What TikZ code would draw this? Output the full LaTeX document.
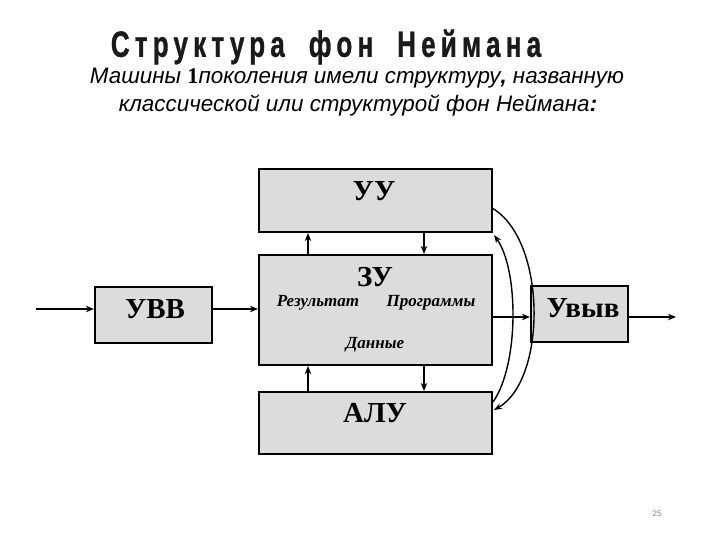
\documentclass[tikz,border=0pt]{standalone}
\usepackage{fontspec}
\setmainfont{Liberation Serif}
\newfontfamily\titlefont[LetterSpace=20,FakeBold=1.2]{Liberation Sans}
\newfontfamily\subfont{Liberation Sans}
\usetikzlibrary{arrows.meta}
\definecolor{boxgray}{HTML}{DCDCDC}
\definecolor{titlecol}{HTML}{1C1A18}
\tikzset{
  blk/.style={draw=black, line width=2.2pt, fill=boxgray, inner sep=0pt},
  blklabel/.style={font=\fontsize{29}{30}\selectfont\bfseries, inner sep=0pt},
  memlabel/.style={font=\fontsize{17}{18}\selectfont\bfseries\itshape, inner sep=0pt},
  arr/.style={line width=1.5pt, -{Stealth[length=8pt,width=6.5pt]}},
  curv/.style={line width=1.4pt, -{Stealth[length=8pt,width=6pt]}}
}
\begin{document}
\begin{tikzpicture}[x=1pt,y=-1pt]
\useasboundingbox (0,0) rectangle (720,540);
\fill[white] (0,0) rectangle (720,540);

% title and subtitle
\node[text=titlecol, inner sep=0pt, font=\titlefont\bfseries\fontsize{26}{28}\selectfont] (title) at (326,47) {\scalebox{1}[1.4]{Структура\hspace{24pt}фон\hspace{24pt}Неймана}};
\node[inner sep=0pt, font=\subfont\itshape\fontsize{22.4}{24}\selectfont] (sub1) at (357,78) {Машины \textbf{\textup{\fontspec{Liberation Serif}1}}поколения имели структуру\textbf{,} названную};
\node[inner sep=0pt, font=\subfont\itshape\fontsize{22.4}{24}\selectfont] (sub2) at (358,106) {классической или структурой фон Неймана\textbf{:}};

% blocks
\node[blk, minimum width=233pt, minimum height=63pt] (uu) at (375.5,200.5) {};
\node[blk, minimum width=233pt, minimum height=110pt] (zu) at (375.5,310) {};
\node[blk, minimum width=233pt, minimum height=62pt] (alu) at (375.5,423) {};
\node[blk, minimum width=117pt, minimum height=56pt] (uvv) at (153.5,315) {};
\node[blk, minimum width=97pt, minimum height=56pt] (uvyv) at (579.5,314) {};

% labels
\node[blklabel] (uut) at (374,191) {УУ};
\node[blklabel] (zut) at (375,277) {ЗУ};
\node[blklabel] (alut) at (375,413) {АЛУ};
\node[blklabel] (uvvt) at (155,309) {УВВ};
\node[blklabel] (uvyvt) at (583,308) {Увыв};
\node[memlabel] (res) at (318,303) {Результат};
\node[memlabel] (prog) at (431,303) {Программы};
\node[memlabel] (dat) at (375,345) {Данные};

% page number
\node[inner sep=0pt, text=gray, font=\subfont\fontsize{8}{9}\selectfont] (pg) at (657,514) {25};

% helper coordinates
\coordinate (in) at (36,309);
\coordinate (out) at (676,317);
\coordinate (ymid) at (0,317);
\coordinate (xl) at (308,0);
\coordinate (xr) at (424,0);

% horizontal arrows
\draw[arr] (in) -- (uvv.west |- in);
\draw[arr] (uvv.east |- in) -- (zu.west |- in);
\draw[arr] (zu.east |- ymid) -- (uvyv.west |- ymid);
\draw[arr] (uvyv.east |- out) -- (out);

% vertical arrows
\draw[arr] (zu.north -| xl) -- (uu.south -| xl);
\draw[arr] (uu.south -| xr) -- (zu.north -| xr);
\draw[arr] (alu.north -| xl) -- (zu.south -| xl);
\draw[arr] (zu.south -| xr) -- (alu.north -| xr);

% curved arrows
\coordinate (c1s) at (492,208);
\coordinate (c1e) at (494,410);
\coordinate (c2s) at (493,402);
\coordinate (c2e) at (494,235);
\draw[curv] (c1s) .. controls (547,240) and (547,380) .. (c1e);
\draw[curv] (c2s) .. controls (519,365) and (519,270) .. (c2e);
\end{tikzpicture}
\end{document}
